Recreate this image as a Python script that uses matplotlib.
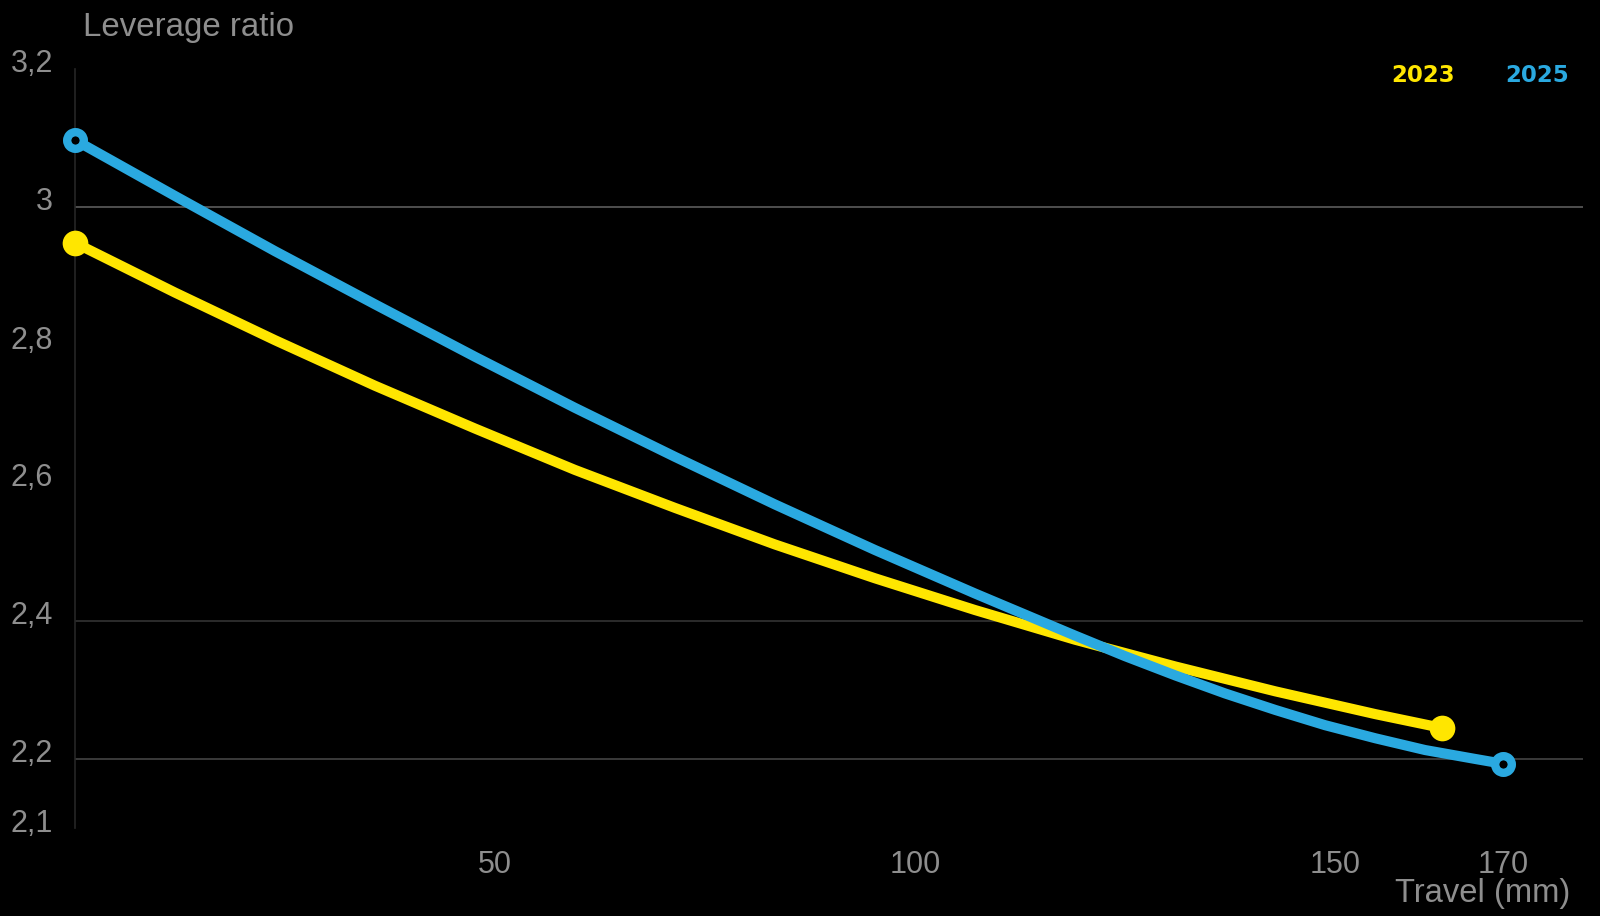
"""Leverage ratio vs travel, 2023 vs 2025 linkage."""

import matplotlib
matplotlib.use("Agg")
import matplotlib.pyplot as plt
from matplotlib.transforms import ScaledTranslation

# Data
travel_2023 = [0, 11.9, 23.8, 35.7, 47.6, 59.5, 71.4, 83.3, 95.2, 107.1,
               119.0, 131.0, 142.9, 154.8, 162.7]
ratio_2023 = [2.948, 2.876, 2.807, 2.741, 2.679, 2.619, 2.564, 2.511, 2.462,
              2.416, 2.373, 2.334, 2.298, 2.265, 2.245]

travel_2025 = [0, 11.9, 23.8, 35.7, 47.6, 59.5, 71.4, 83.3, 95.2, 107.1,
               119.0, 125.0, 131.0, 136.9, 142.9, 148.8, 154.8, 160.7,
               166.7, 170]
ratio_2025 = [3.097, 3.016, 2.936, 2.859, 2.783, 2.709, 2.638, 2.569, 2.503,
              2.440, 2.379, 2.349, 2.321, 2.295, 2.271, 2.249, 2.230, 2.213,
              2.200, 2.193]

x_ticks = [50, 100, 150, 170]
y_ticks = [2.1, 2.2, 2.4, 2.6, 2.8, 3.0, 3.2]
y_tick_labels = ["2,1", "2,2", "2,4", "2,6", "2,8", "3", "3,2"]
grid_levels = [3.0, 2.4, 2.2]
grid_colors = ["#5c5c5c", "#333333", "#444444"]

YELLOW = "#ffe600"
BLUE = "#2aa9e0"
TEXT = "#8e8e8e"

plt.rcParams["font.family"] = ["Liberation Sans", "DejaVu Sans"]

fig = plt.figure(figsize=(16, 9.16), dpi=100, facecolor="black")
ax = fig.add_axes([75 / 1600, 88 / 916, (1583 - 75) / 1600, (828 - 69) / 916])
ax.set_facecolor("black")

ax.set_xlim(0, 179.5)
ax.set_ylim(2.1, 3.2)

for lvl, c in zip(grid_levels, grid_colors):
    ax.axhline(lvl, color=c, linewidth=1.2, zorder=1)

# lines
ax.plot(travel_2023, ratio_2023, color=YELLOW, linewidth=7.3,
        solid_capstyle="round", solid_joinstyle="round", zorder=3)
ax.plot(travel_2025, ratio_2025, color=BLUE, linewidth=7.3,
        solid_capstyle="round", solid_joinstyle="round", zorder=3)

# end markers
ax.plot([travel_2023[0], travel_2023[-1]], [ratio_2023[0], ratio_2023[-1]],
        linestyle="none", marker="o", markersize=18.5, color=YELLOW,
        markeredgewidth=0, zorder=4, clip_on=False)
ax.plot([travel_2025[0], travel_2025[-1]], [ratio_2025[0], ratio_2025[-1]],
        linestyle="none", marker="o", markersize=12, markerfacecolor="black",
        markeredgecolor=BLUE, markeredgewidth=6, zorder=4, clip_on=False)

# spines
for s in ["top", "right", "bottom"]:
    ax.spines[s].set_visible(False)
ax.spines["left"].set_color("#262626")
ax.spines["left"].set_linewidth(1.2)

ax.set_xticks(x_ticks)
ax.set_xticklabels([str(v) for v in x_ticks])
ax.set_yticks(y_ticks)
ax.set_yticklabels(y_tick_labels)
ax.tick_params(axis="both", length=0, labelsize=22, labelcolor=TEXT)
ax.tick_params(axis="x", pad=16)
ax.tick_params(axis="y", pad=16)

# y labels sit a little above their values
shift = ScaledTranslation(0, 8 / 100, fig.dpi_scale_trans)
for lab in ax.get_yticklabels():
    lab.set_transform(lab.get_transform() + shift)

fig.text(83 / 1600, 1 - 36 / 916, "Leverage ratio", color=TEXT, fontsize=23.8,
         ha="left", va="baseline")
fig.text(1570 / 1600, 1 - 902 / 916, "Travel (mm)", color=TEXT, fontsize=23.6,
         ha="right", va="baseline")

# legend labels
fig.text(1423 / 1600, 1 - 76 / 916, "2023", color=YELLOW, fontsize=16.5,
         fontweight="bold", family="DejaVu Sans", ha="center", va="center")
fig.text(1537 / 1600, 1 - 76 / 916, "2025", color=BLUE, fontsize=16.5,
         fontweight="bold", family="DejaVu Sans", ha="center", va="center")

fig.savefig("out.png", dpi=100, facecolor="black")
